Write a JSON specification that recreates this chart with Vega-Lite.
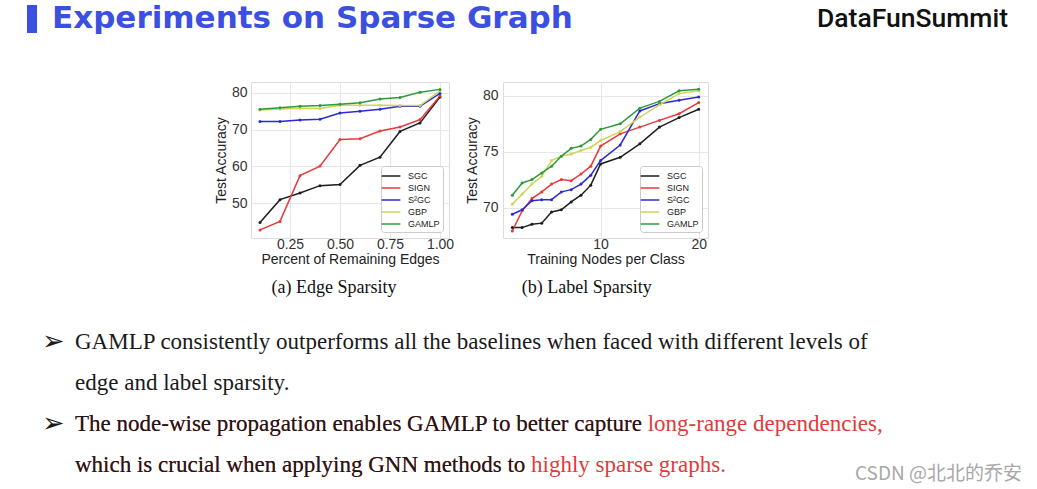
{
  "$schema": "https://vega.github.io/schema/vega-lite/v6.json",
  "background": "white",
  "padding": {"left": 27, "top": 0, "right": 10, "bottom": 4},
  "datasets": {
    "edge": [
      {"edges": 0.1, "method": "SGC", "accuracy": 44.8}, {"edges": 0.2, "method": "SGC", "accuracy": 51.0}, {"edges": 0.3, "method": "SGC", "accuracy": 52.8}, {"edges": 0.4, "method": "SGC", "accuracy": 54.8}, {"edges": 0.5, "method": "SGC", "accuracy": 55.1}, {"edges": 0.6, "method": "SGC", "accuracy": 60.3}, {"edges": 0.7, "method": "SGC", "accuracy": 62.5}, {"edges": 0.8, "method": "SGC", "accuracy": 69.5}, {"edges": 0.9, "method": "SGC", "accuracy": 71.8}, {"edges": 1.0, "method": "SGC", "accuracy": 78.8},
      {"edges": 0.1, "method": "SIGN", "accuracy": 42.8}, {"edges": 0.2, "method": "SIGN", "accuracy": 45.1}, {"edges": 0.3, "method": "SIGN", "accuracy": 57.5}, {"edges": 0.4, "method": "SIGN", "accuracy": 60.1}, {"edges": 0.5, "method": "SIGN", "accuracy": 67.3}, {"edges": 0.6, "method": "SIGN", "accuracy": 67.5}, {"edges": 0.7, "method": "SIGN", "accuracy": 69.6}, {"edges": 0.8, "method": "SIGN", "accuracy": 70.7}, {"edges": 0.9, "method": "SIGN", "accuracy": 72.7}, {"edges": 1.0, "method": "SIGN", "accuracy": 79.1},
      {"edges": 0.1, "method": "S²GC", "accuracy": 72.2}, {"edges": 0.2, "method": "S²GC", "accuracy": 72.2}, {"edges": 0.3, "method": "S²GC", "accuracy": 72.6}, {"edges": 0.4, "method": "S²GC", "accuracy": 72.8}, {"edges": 0.5, "method": "S²GC", "accuracy": 74.5}, {"edges": 0.6, "method": "S²GC", "accuracy": 75.0}, {"edges": 0.7, "method": "S²GC", "accuracy": 75.5}, {"edges": 0.8, "method": "S²GC", "accuracy": 76.3}, {"edges": 0.9, "method": "S²GC", "accuracy": 76.3}, {"edges": 1.0, "method": "S²GC", "accuracy": 79.8},
      {"edges": 0.1, "method": "GBP", "accuracy": 75.3}, {"edges": 0.2, "method": "GBP", "accuracy": 75.6}, {"edges": 0.3, "method": "GBP", "accuracy": 75.8}, {"edges": 0.4, "method": "GBP", "accuracy": 75.7}, {"edges": 0.5, "method": "GBP", "accuracy": 76.6}, {"edges": 0.6, "method": "GBP", "accuracy": 76.6}, {"edges": 0.7, "method": "GBP", "accuracy": 76.6}, {"edges": 0.8, "method": "GBP", "accuracy": 76.5}, {"edges": 0.9, "method": "GBP", "accuracy": 76.5}, {"edges": 1.0, "method": "GBP", "accuracy": 80.5},
      {"edges": 0.1, "method": "GAMLP", "accuracy": 75.5}, {"edges": 0.2, "method": "GAMLP", "accuracy": 75.9}, {"edges": 0.3, "method": "GAMLP", "accuracy": 76.3}, {"edges": 0.4, "method": "GAMLP", "accuracy": 76.5}, {"edges": 0.5, "method": "GAMLP", "accuracy": 76.9}, {"edges": 0.6, "method": "GAMLP", "accuracy": 77.3}, {"edges": 0.7, "method": "GAMLP", "accuracy": 78.3}, {"edges": 0.8, "method": "GAMLP", "accuracy": 78.7}, {"edges": 0.9, "method": "GAMLP", "accuracy": 80.1}, {"edges": 1.0, "method": "GAMLP", "accuracy": 80.9}
    ],
    "label": [
      {"nodes": 1, "method": "SGC", "accuracy": 68.2}, {"nodes": 2, "method": "SGC", "accuracy": 68.2}, {"nodes": 3, "method": "SGC", "accuracy": 68.5}, {"nodes": 4, "method": "SGC", "accuracy": 68.6}, {"nodes": 5, "method": "SGC", "accuracy": 69.6}, {"nodes": 6, "method": "SGC", "accuracy": 69.8}, {"nodes": 7, "method": "SGC", "accuracy": 70.5}, {"nodes": 8, "method": "SGC", "accuracy": 71.1}, {"nodes": 9, "method": "SGC", "accuracy": 72.0}, {"nodes": 10, "method": "SGC", "accuracy": 73.9}, {"nodes": 12, "method": "SGC", "accuracy": 74.5}, {"nodes": 14, "method": "SGC", "accuracy": 75.7}, {"nodes": 16, "method": "SGC", "accuracy": 77.2}, {"nodes": 18, "method": "SGC", "accuracy": 78.05}, {"nodes": 20, "method": "SGC", "accuracy": 78.8},
      {"nodes": 1, "method": "SIGN", "accuracy": 67.9}, {"nodes": 2, "method": "SIGN", "accuracy": 69.7}, {"nodes": 3, "method": "SIGN", "accuracy": 70.8}, {"nodes": 4, "method": "SIGN", "accuracy": 71.4}, {"nodes": 5, "method": "SIGN", "accuracy": 72.1}, {"nodes": 6, "method": "SIGN", "accuracy": 72.5}, {"nodes": 7, "method": "SIGN", "accuracy": 72.4}, {"nodes": 8, "method": "SIGN", "accuracy": 73.0}, {"nodes": 9, "method": "SIGN", "accuracy": 73.7}, {"nodes": 10, "method": "SIGN", "accuracy": 75.5}, {"nodes": 12, "method": "SIGN", "accuracy": 76.6}, {"nodes": 14, "method": "SIGN", "accuracy": 77.2}, {"nodes": 16, "method": "SIGN", "accuracy": 77.8}, {"nodes": 18, "method": "SIGN", "accuracy": 78.4}, {"nodes": 20, "method": "SIGN", "accuracy": 79.4},
      {"nodes": 1, "method": "S²GC", "accuracy": 69.4}, {"nodes": 2, "method": "S²GC", "accuracy": 69.8}, {"nodes": 3, "method": "S²GC", "accuracy": 70.6}, {"nodes": 4, "method": "S²GC", "accuracy": 70.7}, {"nodes": 5, "method": "S²GC", "accuracy": 70.7}, {"nodes": 6, "method": "S²GC", "accuracy": 71.4}, {"nodes": 7, "method": "S²GC", "accuracy": 71.6}, {"nodes": 8, "method": "S²GC", "accuracy": 72.1}, {"nodes": 9, "method": "S²GC", "accuracy": 72.9}, {"nodes": 10, "method": "S²GC", "accuracy": 74.2}, {"nodes": 12, "method": "S²GC", "accuracy": 75.6}, {"nodes": 14, "method": "S²GC", "accuracy": 78.65}, {"nodes": 16, "method": "S²GC", "accuracy": 79.3}, {"nodes": 18, "method": "S²GC", "accuracy": 79.6}, {"nodes": 20, "method": "S²GC", "accuracy": 79.9},
      {"nodes": 1, "method": "GBP", "accuracy": 70.3}, {"nodes": 2, "method": "GBP", "accuracy": 71.2}, {"nodes": 3, "method": "GBP", "accuracy": 72.1}, {"nodes": 4, "method": "GBP", "accuracy": 72.8}, {"nodes": 5, "method": "GBP", "accuracy": 74.2}, {"nodes": 6, "method": "GBP", "accuracy": 74.6}, {"nodes": 7, "method": "GBP", "accuracy": 74.8}, {"nodes": 8, "method": "GBP", "accuracy": 75.1}, {"nodes": 9, "method": "GBP", "accuracy": 75.4}, {"nodes": 10, "method": "GBP", "accuracy": 76.0}, {"nodes": 12, "method": "GBP", "accuracy": 76.8}, {"nodes": 14, "method": "GBP", "accuracy": 78.1}, {"nodes": 16, "method": "GBP", "accuracy": 79.2}, {"nodes": 18, "method": "GBP", "accuracy": 80.2}, {"nodes": 20, "method": "GBP", "accuracy": 80.45},
      {"nodes": 1, "method": "GAMLP", "accuracy": 71.1}, {"nodes": 2, "method": "GAMLP", "accuracy": 72.2}, {"nodes": 3, "method": "GAMLP", "accuracy": 72.5}, {"nodes": 4, "method": "GAMLP", "accuracy": 73.1}, {"nodes": 5, "method": "GAMLP", "accuracy": 73.7}, {"nodes": 6, "method": "GAMLP", "accuracy": 74.6}, {"nodes": 7, "method": "GAMLP", "accuracy": 75.3}, {"nodes": 8, "method": "GAMLP", "accuracy": 75.5}, {"nodes": 9, "method": "GAMLP", "accuracy": 76.1}, {"nodes": 10, "method": "GAMLP", "accuracy": 77.0}, {"nodes": 12, "method": "GAMLP", "accuracy": 77.5}, {"nodes": 14, "method": "GAMLP", "accuracy": 78.9}, {"nodes": 16, "method": "GAMLP", "accuracy": 79.5}, {"nodes": 18, "method": "GAMLP", "accuracy": 80.45}, {"nodes": 20, "method": "GAMLP", "accuracy": 80.6}
    ],
    "header": [
      {"side": "left", "role": "title", "text": "Experiments on Sparse Graph"},
      {"side": "right", "role": "brand", "text": "DataFunSummit"}
    ],
    "bullets": [
      {"line": 1, "part": "marker", "tone": "plain", "text": "➢"},
      {"line": 1, "part": "body", "tone": "plain", "text": "GAMLP consistently outperforms all the baselines when faced with different levels of"},
      {"line": 2, "part": "body", "tone": "plain", "text": "edge and label sparsity."},
      {"line": 3, "part": "marker", "tone": "plain", "text": "➢"},
      {"line": 3, "part": "body", "tone": "highlight", "text": " The node-wise propagation enables GAMLP to better capture long-range dependencies,"},
      {"line": 3, "part": "body", "tone": "plain", "text": " The node-wise propagation enables GAMLP to better capture"},
      {"line": 4, "part": "body", "tone": "highlight", "text": "which is crucial when applying GNN methods to highly sparse graphs."},
      {"line": 4, "part": "body", "tone": "plain", "text": "which is crucial when applying GNN methods to"}
    ],
    "watermark": [
      {"side": "right", "line": 4, "text": "CSDN @北北的乔安"}
    ]
  },
  "spacing": 43,
  "vconcat": [
    {
      "width": 976,
      "height": 28,
      "view": {"stroke": null},
      "data": {"name": "header"},
      "encoding": {
        "x": {"field": "side", "type": "nominal", "scale": {"type": "point", "padding": 0, "domain": ["left", "right"]}, "axis": null}
      },
      "layer": [
        {"transform": [{"filter": "datum.role === 'title'"}], "mark": {"type": "rule", "strokeWidth": 10, "color": "#3b4fe0"}},
        {"transform": [{"filter": "datum.role === 'title'"}], "mark": {"type": "text", "align": "left", "baseline": "middle", "dx": 20, "font": "DejaVu Sans", "fontWeight": "bold", "fontSize": 31, "color": "#3b4fe0"}, "encoding": {"text": {"field": "text"}}},
        {"transform": [{"filter": "datum.role === 'brand'"}], "mark": {"type": "text", "align": "right", "baseline": "middle", "font": "Roboto", "fontWeight": 500, "fontSize": 26.5, "color": "#111111"}, "encoding": {"text": {"field": "text"}}}
      ]
    },
    {
      "spacing": 30,
      "vconcat": [
        {
          "spacing": 54,
          "bounds": "flush",
          "hconcat": [
            {"width": 165, "height": 156, "view": {"stroke": null}, "data": {"values": []}, "mark": {"type": "point"}},
            {
              "width": 198,
              "height": 156,
              "view": {"stroke": "#dddddd"},
              "data": {"name": "edge"},
              "title": {"text": "(a) Edge Sparsity", "orient": "bottom", "font": "Liberation Serif", "fontSize": 18, "fontWeight": "normal", "color": "#111111", "offset": 13, "frame": "bounds", "anchor": "middle"},
              "mark": {"type": "line", "strokeWidth": 1.5, "point": {"filled": true, "size": 9}},
              "encoding": {
                "x": {"field": "edges", "type": "quantitative", "scale": {"domain": [0.055, 1.045], "nice": false, "zero": false}, "axis": {"values": [0.25, 0.5, 0.75, 1.0], "format": ".2f", "title": "Percent of Remaining Edges", "labelPadding": -1, "titlePadding": 1}},
                "y": {"field": "accuracy", "type": "quantitative", "scale": {"domain": [40.6, 82.9], "nice": false, "zero": false}, "axis": {"values": [50, 60, 70, 80], "title": "Test Accuracy", "labelPadding": 4, "titlePadding": 3}},
                "color": {"field": "method", "type": "nominal", "scale": {"domain": ["SGC", "SIGN", "S²GC", "GBP", "GAMLP"], "range": ["#1e1e1e", "#e8393a", "#2b2bd6", "#cdd65a", "#2f9a3a"]}, "legend": {"title": null}}
              }
            },
            {
              "width": 205,
              "height": 156,
              "view": {"stroke": "#dddddd"},
              "data": {"name": "label"},
              "title": {"text": "(b) Label Sparsity", "orient": "bottom", "font": "Liberation Serif", "fontSize": 18, "fontWeight": "normal", "color": "#111111", "offset": 13, "frame": "bounds", "anchor": "middle"},
              "mark": {"type": "line", "strokeWidth": 1.5, "point": {"filled": true, "size": 9}},
              "encoding": {
                "x": {"field": "nodes", "type": "quantitative", "scale": {"domain": [0.05, 20.95], "nice": false, "zero": false}, "axis": {"values": [10, 20], "title": "Training Nodes per Class", "labelPadding": -1, "titlePadding": 1}},
                "y": {"field": "accuracy", "type": "quantitative", "scale": {"domain": [67.27, 81.24], "nice": false, "zero": false}, "axis": {"values": [70, 75, 80], "title": "Test Accuracy", "labelPadding": 5, "titlePadding": 3}},
                "color": {"field": "method", "type": "nominal", "scale": {"domain": ["SGC", "SIGN", "S²GC", "GBP", "GAMLP"], "range": ["#1e1e1e", "#e8393a", "#2b2bd6", "#cdd65a", "#2f9a3a"]}, "legend": {"title": null}}
              }
            }
          ],
          "resolve": {"scale": {"color": "independent"}, "legend": {"color": "independent"}}
        },
        {
          "width": 990,
          "height": 123,
          "view": {"stroke": null},
          "encoding": {
            "y": {"field": "line", "type": "ordinal", "scale": {"type": "point", "padding": 0, "domain": [1, 2, 3, 4]}, "axis": null}
          },
          "layer": [
            {
              "data": {"name": "bullets"},
              "transform": [{"filter": "datum.part === 'marker'"}],
              "mark": {"type": "text", "align": "left", "baseline": "middle", "font": "DejaVu Sans", "fontSize": 27, "color": "#1a1a1a"},
              "encoding": {
                "x": {"field": "part", "type": "nominal", "scale": {"type": "point", "padding": 0, "domain": ["marker", "body"], "range": [10, 43]}, "axis": null},
                "text": {"field": "text"}
              }
            },
            {
              "data": {"name": "bullets"},
              "transform": [{"filter": "datum.part === 'body'"}],
              "mark": {"type": "text", "align": "left", "baseline": "middle", "font": "Liberation Serif", "fontSize": 23},
              "encoding": {
                "x": {"field": "part", "type": "nominal", "scale": {"type": "point", "padding": 0, "domain": ["marker", "body"], "range": [14, 43]}, "axis": null},
                "text": {"field": "text"},
                "color": {"field": "tone", "type": "nominal", "scale": {"domain": ["plain", "highlight"], "range": ["#1a1a1a", "#e03b3b"]}, "legend": null}
              }
            },
            {
              "data": {"name": "watermark"},
              "mark": {"type": "text", "align": "right", "baseline": "top", "font": "Noto Sans CJK SC", "fontSize": 19, "color": "#a8a8a8"},
              "encoding": {
                "x": {"field": "side", "type": "nominal", "scale": {"type": "point", "padding": 0, "domain": ["left", "right"]}, "axis": null},
                "text": {"field": "text"}
              }
            }
          ],
          "resolve": {"scale": {"x": "independent"}}
        }
      ]
    }
  ],
  "config": {
    "font": "Liberation Sans",
    "view": {"stroke": null},
    "axis": {"grid": true, "gridColor": "#e6e6e6", "domain": false, "ticks": false, "labelFont": "Liberation Sans", "labelFontSize": 14, "labelColor": "#333333", "titleFont": "Liberation Sans", "titleFontSize": 14, "titleFontWeight": "normal", "titleColor": "#222222"},
    "legend": {"orient": "bottom-right", "offset": 6, "fillColor": "white", "strokeColor": "#cccccc", "cornerRadius": 3, "padding": 3, "labelFont": "Liberation Sans", "labelFontSize": 9, "labelColor": "#222222", "labelOffset": 10, "symbolType": "M-1.5,0H1.5", "symbolSize": 156, "symbolStrokeWidth": 1.5, "rowPadding": 0}
  }
}
